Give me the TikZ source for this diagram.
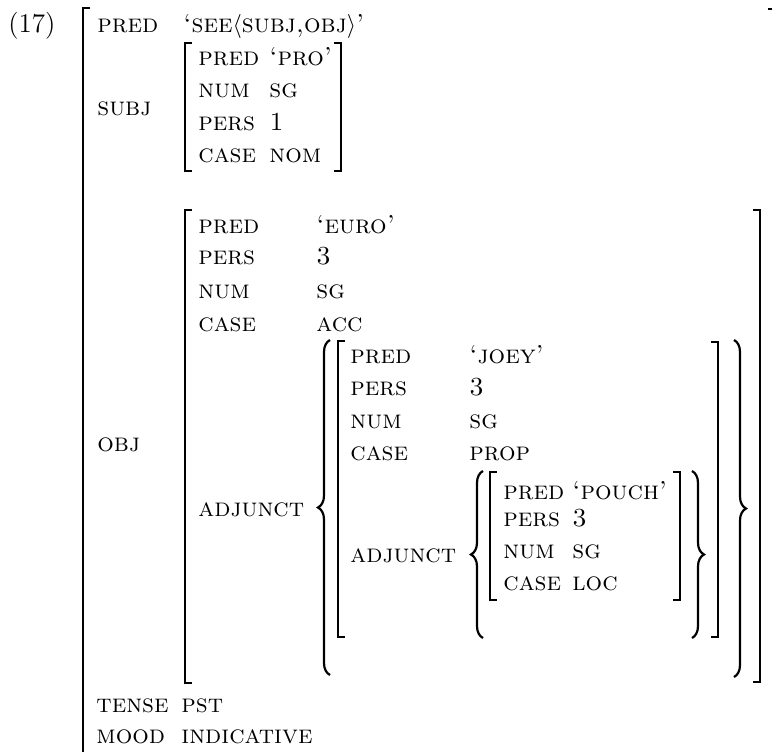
\documentclass[tikz,border=0pt]{standalone}
\usepackage{tikz}
\usetikzlibrary{decorations.pathreplacing}

\begin{document}
\begin{tikzpicture}[x=0.5pt, y=-0.5pt, attr/.style={anchor=base west, inner sep=0pt, font=\fontsize{13}{15}\selectfont\scshape}, brk/.style={line width=1.3pt}, crl/.style={line width=1.1pt, decorate, decoration={brace, amplitude=6pt}}]
			\useasboundingbox (0,0) rectangle (772,751);

			\node[attr, font=\fontsize{13.5}{15}\selectfont] (num) at (8,32) {(17)};

			% outermost f-structure
			\draw[brk] (90,8) -- (83,8) -- (83,760);
			\draw[brk] (768,9) -- (776,9) -- (776,760);
			\node[attr] (pred) at (97,32) {pred};
			\node[attr] (predval) at (183,32) {`see$\langle$subj,obj$\rangle$'};
			\node[attr] (subj) at (97,115) {subj};
			\node[attr] (obj) at (97,451) {obj};
			\node[attr] (tense) at (96,712) {tense};
			\node[attr] (tenseval) at (181,712) {pst};
			\node[attr] (mood) at (96,743) {mood};
			\node[attr] (moodval) at (181,743) {indicative};

			% subj
			\draw[brk] (192,43) -- (185,43) -- (185,171) -- (192,171);
			\draw[brk] (334,43) -- (341,43) -- (341,171) -- (334,171);
			\node[attr] (spred) at (198,65) {pred};
			\node[attr] (spredval) at (269,65) {`pro'};
			\node[attr] (snum) at (198,97) {num};
			\node[attr] (snumval) at (269,97) {sg};
			\node[attr] (spers) at (198,130) {pers};
			\node[attr] (spersval) at (269,130) {1};
			\node[attr] (scase) at (198,162) {case};
			\node[attr] (scaseval) at (269,162) {nom};

			% obj
			\draw[brk] (192,210) -- (185,210) -- (185,683) -- (192,683);
			\draw[brk] (753,210) -- (760,210) -- (760,682) -- (753,682);
			\node[attr] (opred) at (198,233) {pred};
			\node[attr] (opredval) at (316,233) {`euro'};
			\node[attr] (opers) at (198,264) {pers};
			\node[attr] (opersval) at (316,264) {3};
			\node[attr] (onum) at (198,298) {num};
			\node[attr] (onumval) at (316,298) {sg};
			\node[attr] (ocase) at (198,331) {case};
			\node[attr] (ocaseval) at (316,331) {acc};
			\node[attr] (oadj) at (198,516) {adjunct};

			% adjunct of obj
			\draw[crl] (330,675) -- (330,340);
			\draw[crl] (734,340) -- (734,677);
			\draw[brk] (345,341) -- (338,341) -- (338,637) -- (345,637);
			\draw[brk] (711,342) -- (718,342) -- (718,637) -- (711,637);
			\node[attr] (jpred) at (350,363) {pred};
			\node[attr] (jpredval) at (469,363) {`joey'};
			\node[attr] (jpers) at (350,395) {pers};
			\node[attr] (jpersval) at (469,395) {3};
			\node[attr] (jnum) at (350,428) {num};
			\node[attr] (jnumval) at (469,428) {sg};
			\node[attr] (jcase) at (350,460) {case};
			\node[attr] (jcaseval) at (469,460) {prop};
			\node[attr] (jadj) at (350,562) {adjunct};

			% adjunct of joey
			\draw[crl] (483,638) -- (483,471);
			\draw[crl] (692,471) -- (692,638);
			\draw[brk] (497,472) -- (490,472) -- (490,600) -- (497,600);
			\draw[brk] (673,472) -- (680,472) -- (680,600) -- (673,600);
			\node[attr] (ppred) at (503,499) {pred};
			\node[attr] (ppredval) at (572,499) {`pouch'};
			\node[attr] (ppers) at (503,526) {pers};
			\node[attr] (ppersval) at (572,526) {3};
			\node[attr] (pnum) at (503,558) {num};
			\node[attr] (pnumval) at (572,558) {sg};
			\node[attr] (pcase) at (503,590) {case};
			\node[attr] (pcaseval) at (572,590) {loc};

		\end{tikzpicture}
\end{document}
